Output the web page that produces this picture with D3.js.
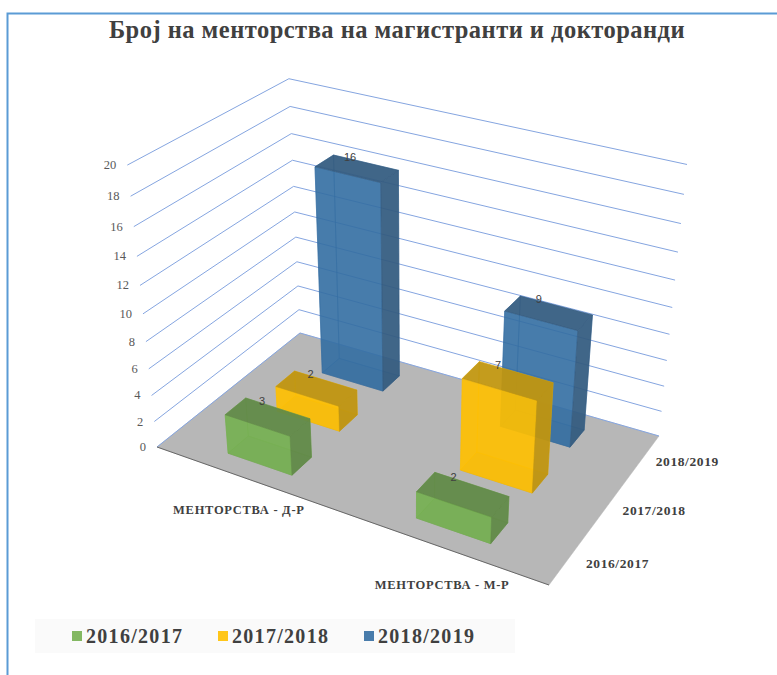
<!DOCTYPE html>
<html><head><meta charset="utf-8">
<script src="https://cdn.jsdelivr.net/npm/d3@7"></script>
<style>html,body{margin:0;padding:0;background:#fff}svg{display:block}</style></head>
<body><svg id="c" width="777" height="675"></svg>
<script>
const titleText = "Број на менторства на магистранти и докторанди";
const categories = ["МЕНТОРСТВА - Д-Р", "МЕНТОРСТВА - М-Р"];
const seriesNames = ["2016/2017", "2017/2018", "2018/2019"];
const values2016 = [3, 2];
const values2017 = [2, 7];
const values2018 = [16, 9];
const yTicks = [0, 2, 4, 6, 8, 10, 12, 14, 16, 18, 20];
const seriesValues = [values2016, values2017, values2018];
const seriesColors = ["#76B051", "#FFC000", "#356EA2"];

// Floor plane calibration (front-left, front-right, back-right, back-left) and vertical vanishing point
const Q = [[157,447],[549,585],[659,436],[300,333]];
const V = [410,2850], wH = -0.105;
const [x0,y0]=Q[0],[x1,y1]=Q[1],[x2,y2]=Q[2],[x3,y3]=Q[3];
const dx1=x1-x2,dx2=x3-x2,sx=x0-x1+x2-x3,dy1=y1-y2,dy2=y3-y2,sy=y0-y1+y2-y3;
const den=dx1*dy2-dx2*dy1, g=(sx*dy2-dx2*sy)/den, h=(dx1*sy-sx*dy1)/den;
const a=x1-x0+g*x1,b=x3-x0+h*x3,d=y1-y0+g*y1,e=y3-y0+h*y3;
const yS=d3.scaleLinear().domain([0,20]).range([0,1]);
const xOuter=d3.scaleBand().domain(categories).range([0,1]).paddingInner(.644).paddingOuter(.322);
const zOuter=d3.scaleBand().domain(seriesNames).range([0,1]).paddingInner(.6).paddingOuter(.3);
function P(u,v,val){const t=yS(val)*wH*(1-0.035*u-0.008*v);const W=g*u+h*v+1+t;
  return [(a*u+b*v+x0+t*V[0])/W,(d*u+e*v+y0+t*V[1])/W];}

const svg=d3.select("#c");
const line=d3.line();
const poly=(pts,fill,op,stroke)=>svg.append("path").attr("d",line(pts)+"Z").attr("fill",fill).attr("fill-opacity",op)
  .attr("stroke",stroke||fill).attr("stroke-opacity",.6).attr("stroke-width",.8).attr("stroke-linejoin","round");

// frame
svg.append("path").attr("d","M7.5,675V13.5H777").attr("fill","none").attr("stroke","#5B9BD5").attr("stroke-width",2);

svg.append("text").text(titleText).attr("x",397).attr("y",38).attr("text-anchor","middle")
 .attr("font-family","Liberation Serif").attr("font-weight","700").attr("font-size",24.5).attr("letter-spacing",.48).attr("fill","#404040");

// gridlines
yTicks.filter(t=>t>0).forEach(t=>{
  svg.append("path").attr("d",line([P(0,0,t),P(0,1,t),P(1,1,t)])).attr("fill","none").attr("stroke","#85A5E0").attr("stroke-width",1);
});
// floor
poly([P(0,0,0),P(1,0,0),P(1,1,0),P(0,1,0)],"#B7B7B7",1,"#B7B7B7");
svg.append("path").attr("d",line([P(0,0,0),P(0,1,0),P(1,1,0)])).attr("fill","none").attr("stroke","#85A5E0").attr("stroke-width",1);
svg.append("path").attr("d",line([P(0,0,0),P(1,0,0)])).attr("fill","none").attr("stroke","#666").attr("stroke-width",1);

// y labels
yTicks.forEach(t=>{const p=P(0,0,t);
 svg.append("text").text(t).attr("x",p[0]-11).attr("y",p[1]+4).attr("text-anchor","end")
  .attr("font-family","Liberation Serif").attr("font-size",12.5).attr("fill","#595959");});

// bars
const bars=[];
seriesNames.forEach((s,si)=>categories.forEach((c,ci)=>bars.push({s,si,c,ci,val:seriesValues[si][ci]})));
bars.sort((p,q)=>d3.descending(p.si,q.si)||d3.ascending(p.ci,q.ci));
const shade=(col,k)=>d3.interpolateRgb(col,"#333")(k);
bars.forEach(B=>{
  const u0=xOuter(B.c),u1=u0+xOuter.bandwidth(),v0=zOuter(B.s),v1=v0+zOuter.bandwidth();
  const col=seriesColors[B.si],dk=shade(col,.32),mid=shade(col,.18);
  poly([P(u0,v0,0),P(u1,v0,0),P(u1,v1,0),P(u0,v1,0)],mid,.5);      // bottom
  poly([P(u0,v1,0),P(u1,v1,0),P(u1,v1,B.val),P(u0,v1,B.val)],col,.4); // back
  poly([P(u0,v0,0),P(u0,v1,0),P(u0,v1,B.val),P(u0,v0,B.val)],col,.4); // left
  poly([P(u0,v0,0),P(u1,v0,0),P(u1,v0,B.val),P(u0,v0,B.val)],col,.85); // front
  poly([P(u1,v0,0),P(u1,v1,0),P(u1,v1,B.val),P(u1,v0,B.val)],dk,.9);  // right
  poly([P(u0,v0,B.val),P(u1,v0,B.val),P(u1,v1,B.val),P(u0,v1,B.val)],dk,.9); // top
  const l=P(u0+(u1-u0)*.26,v1,B.val);
  svg.append("text").text(B.val).attr("x",l[0]).attr("y",l[1]+2).attr("text-anchor","middle")
   .attr("font-family","Liberation Sans").attr("font-size",11).attr("fill","#404040");
});

// category labels
categories.forEach(c=>{const p=P(xOuter(c)+xOuter.bandwidth()/2+.072,-0.2,0);
 svg.append("text").text(c).attr("x",p[0]).attr("y",p[1]-2).attr("text-anchor","middle")
  .attr("font-family","Liberation Serif").attr("font-weight","700").attr("font-size",12.5).attr("letter-spacing",.7).attr("fill","#404040");});
// series labels
seriesNames.forEach(s=>{const p=P(1.105,zOuter(s)+zOuter.bandwidth()/2,0);
 svg.append("text").text(s).attr("x",p[0]).attr("y",p[1]-5).attr("text-anchor","middle")
  .attr("font-family","Liberation Serif").attr("font-weight","700").attr("font-size",13.5).attr("letter-spacing",.6).attr("fill","#404040");});

// legend
svg.append("rect").attr("x",35).attr("y",619).attr("width",480).attr("height",34).attr("fill","#FAFAFA");
const legendX=d3.scalePoint().domain(seriesNames).range([72,364]);
seriesNames.forEach((s,i)=>{const x=legendX(s);
 svg.append("rect").attr("x",x).attr("y",631).attr("width",10).attr("height",10).attr("fill",seriesColors[i]).attr("fill-opacity",.9);
 svg.append("text").text(s).attr("x",x+14).attr("y",643).attr("font-family","Liberation Serif").attr("font-weight","700")
  .attr("font-size",20).attr("letter-spacing",1.3).attr("fill","#404040");});
</script></body></html>
